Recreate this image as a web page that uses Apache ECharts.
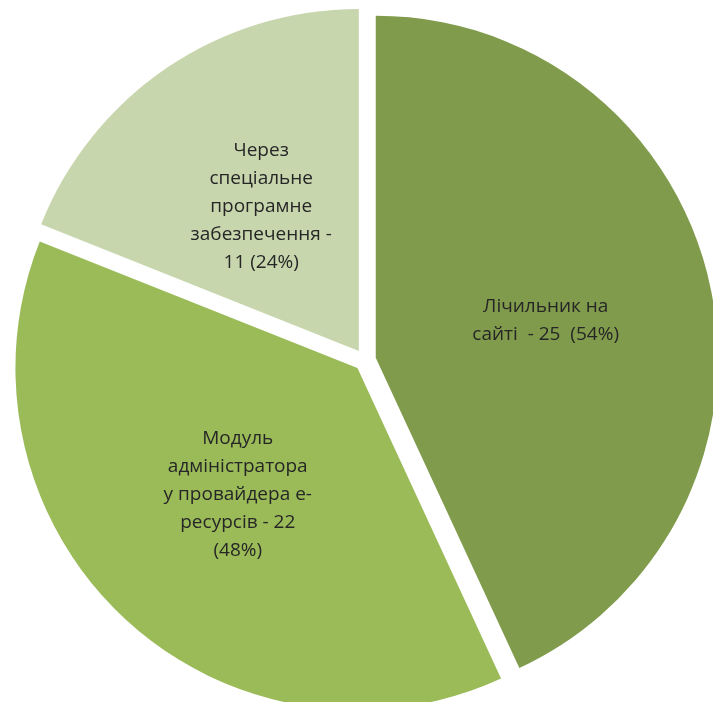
<!DOCTYPE html>
<html>
<head>
<meta charset="utf-8">
<script src="https://cdn.jsdelivr.net/npm/echarts@6/dist/echarts.min.js"></script>
<style>
  html, body { margin: 0; padding: 0; background: #fff; }
</style>
</head>
<body>
<div id="main" style="width:713px;height:702px"></div>
<script>
// дані діаграми
var values = [25, 22, 11];
var labels = [
  "Лічильник на\nсайті  - 25  (54%)",
  "Модуль\nадміністратора\nу провайдера е-\nресурсів - 22\n(48%)",
  "Через\nспеціальне\nпрограмне\nзабезпечення -\n11 (24%)"
];
var colors = ["#809b4b", "#9bbb59", "#c8d6ad"];

var chart = echarts.init(document.getElementById("main"));

var data = values.map(function (v, i) {
  return {
    value: v,
    name: labels[i],
    selected: true,
    itemStyle: { color: colors[i] }
  };
});

chart.setOption({
  animation: false,
  series: [
    {
      type: "pie",
      center: [365, 360],
      radius: [0, 342],
      startAngle: 90,
      clockwise: true,
      selectedMode: "multiple",
      selectedOffset: 11,
      select: { itemStyle: { borderWidth: 0 } },
      emphasis: { disabled: true },
      label: {
        show: true,
        position: "inside",
        color: "#262626",
        fontFamily: "Open Sans",
        fontSize: 19,
        lineHeight: 28,
        formatter: function (p) { return p.name; }
      },
      labelLine: { show: false },
      data: data
    }
  ]
});
</script>
</body>
</html>
